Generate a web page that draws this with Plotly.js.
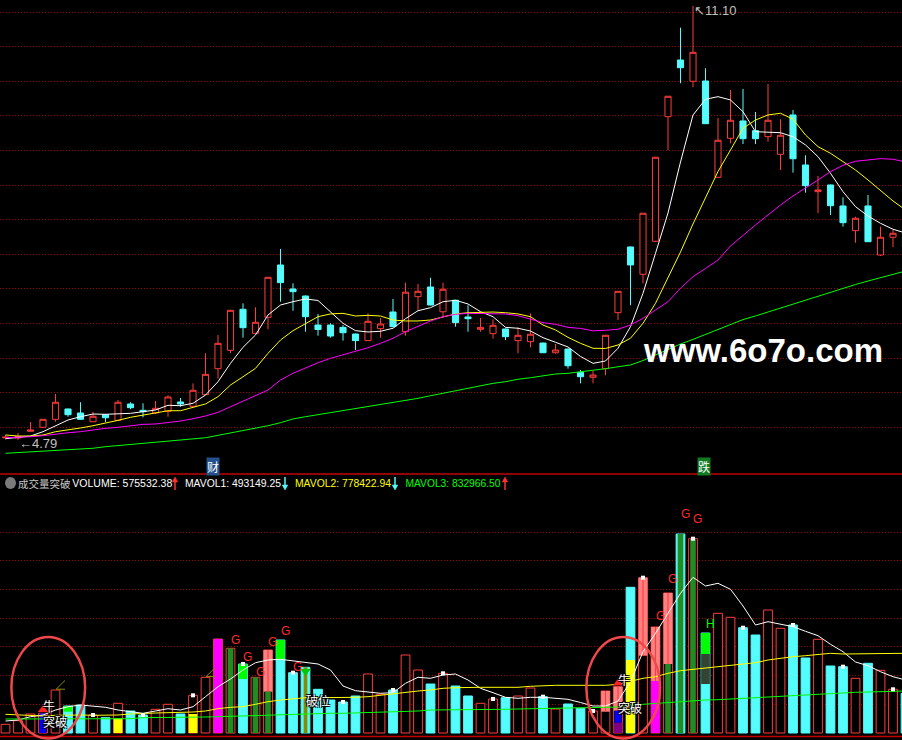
<!DOCTYPE html>
<html><head><meta charset="utf-8">
<script src="https://cdn.plot.ly/plotly-3.0.1.min.js"></script>
<style>html,body{margin:0;padding:0;background:#000;}#chart{width:902px;height:740px;}</style>
</head><body><div id="chart"></div>
<script>
// ---------- price data (per trading day, index 0..72) ----------
const openP=[4.822,4.819,4.917,4.975,5.091,5.241,5.183,5.056,5.158,5.076,
5.314,5.222,5.183,5.207,5.343,5.280,5.449,5.827,6.094,6.691,
6.342,6.574,7.335,6.986,6.884,6.462,6.462,6.428,6.331,6.235,
6.409,6.651,6.365,6.874,7.015,6.655,6.822,6.579,6.400,6.336,
6.404,6.235,6.220,6.200,6.059,6.113,5.774,5.702,5.827,6.641,
7.597,7.200,7.680,9.491,10.315,10.006,10.010,8.610,9.177,9.429,
9.288,9.200,8.944,9.516,8.789,8.401,8.498,8.193,7.834,8.193,
7.480,7.738,7.800];
const highP=[4.863,4.892,5.052,5.096,5.459,5.248,5.339,5.197,5.168,5.372,
5.339,5.324,5.357,5.440,5.401,5.614,6.051,6.317,6.681,6.778,
6.720,7.160,7.568,7.069,6.891,6.623,6.487,6.462,6.339,6.632,
6.564,6.841,7.078,7.058,7.150,7.078,6.826,6.749,6.564,6.545,
6.412,6.428,6.632,6.207,6.186,6.120,5.808,5.793,6.317,6.956,
7.604,8.092,8.905,9.792,10.785,11.10,10.195,9.472,9.879,9.894,
9.560,9.967,9.453,9.589,8.930,8.629,8.505,8.319,8.037,8.353,
7.892,7.844,7.873];
const lowP=[4.80,4.79,4.914,4.965,5.056,5.129,5.081,5.052,5.052,5.066,
5.237,5.120,5.168,5.129,5.274,5.277,5.444,5.682,6.051,6.278,
6.339,6.400,6.801,6.670,6.365,6.307,6.278,6.235,6.099,6.230,
6.278,6.433,6.307,6.670,6.746,6.583,6.438,6.365,6.365,6.263,
6.244,6.051,6.138,6.055,6.045,5.827,5.614,5.614,5.731,6.535,
6.749,7.069,7.669,9.007,9.977,9.919,9.385,8.607,9.104,9.093,
9.093,9.127,8.716,8.677,8.386,8.087,8.062,7.892,7.659,7.669,
7.466,7.593,7.553];
const closeP=[4.831,4.841,4.936,5.091,5.339,5.158,5.091,5.135,5.114,5.339,
5.260,5.202,5.251,5.416,5.314,5.513,5.745,6.196,6.676,6.423,
6.502,7.156,7.078,6.947,6.583,6.397,6.302,6.350,6.235,6.516,
6.477,6.438,6.939,6.952,6.753,6.982,6.496,6.554,6.428,6.458,
6.292,6.313,6.328,6.059,6.099,5.870,5.710,5.735,6.313,6.952,
7.335,8.087,8.901,9.788,10.203,10.427,9.389,9.148,9.439,9.171,
9.171,9.439,9.221,8.880,8.488,8.425,8.197,7.950,8.014,7.673,
7.738,7.796,7.597];
// moving averages
const ma5=[4.809,4.823,4.848,4.911,4.998,5.081,5.129,5.168,5.164,5.172,
5.178,5.202,5.226,5.295,5.289,5.324,5.444,5.638,5.905,6.138,
6.317,6.608,6.753,6.801,6.841,6.819,6.656,6.487,6.380,6.361,
6.371,6.415,6.554,6.670,6.714,6.801,6.822,6.768,6.656,6.583,
6.428,6.415,6.375,6.278,6.211,6.143,6.005,5.905,5.939,6.124,
6.438,6.924,7.505,8.091,8.833,9.516,9.744,9.782,9.734,9.564,
9.273,9.264,9.258,9.200,9.080,8.910,8.668,8.401,8.183,8.047,
7.941,7.854,7.800];
const ma10=[4.863,4.848,4.848,4.863,4.911,4.936,4.965,4.998,5.033,5.076,
5.120,5.153,5.187,5.216,5.216,5.265,5.314,5.420,5.590,5.710,
5.832,6.051,6.244,6.380,6.487,6.583,6.623,6.632,6.593,6.603,
6.593,6.535,6.521,6.521,6.535,6.583,6.623,6.641,6.651,6.651,
6.641,6.623,6.583,6.462,6.390,6.283,6.196,6.124,6.121,6.172,
6.270,6.487,6.778,7.141,7.524,7.931,8.309,8.694,9.007,9.323,
9.443,9.516,9.541,9.454,9.225,9.055,8.959,8.837,8.716,8.571,
8.425,8.266,8.135];
const ma20=[4.823,4.829,4.838,4.853,4.877,4.896,4.911,4.936,4.960,4.975,
4.998,5.018,5.023,5.042,5.066,5.100,5.139,5.193,5.274,5.357,
5.430,5.517,5.663,5.760,5.837,5.914,5.978,6.026,6.074,6.132,
6.196,6.269,6.365,6.448,6.521,6.583,6.618,6.632,6.632,6.623,
6.623,6.598,6.545,6.496,6.472,6.428,6.412,6.378,6.385,6.401,
6.462,6.559,6.681,6.801,6.996,7.165,7.284,7.408,7.611,7.771,
7.917,8.062,8.207,8.338,8.450,8.571,8.692,8.784,8.843,8.862,
8.881,8.872,8.833];
const ma60=[4.597,4.606,4.620,4.630,4.635,4.645,4.655,4.670,4.693,4.708,
4.728,4.743,4.757,4.776,4.786,4.805,4.823,4.858,4.892,4.925,
4.954,4.998,5.042,5.096,5.129,5.158,5.190,5.219,5.248,5.277,
5.306,5.335,5.365,5.396,5.434,5.469,5.507,5.542,5.585,5.614,
5.638,5.673,5.696,5.721,5.750,5.760,5.779,5.801,5.827,5.855,
5.881,5.946,6.026,6.106,6.186,6.253,6.324,6.397,6.468,6.541,
6.594,6.652,6.710,6.768,6.826,6.884,6.942,7.000,7.051,7.102,
7.152,7.203,7.247];

// ---------- volume data (万) ----------
const volWan=[8.7,12.3,19,19.7,43,27,28,18,15.3,29.7,
22,18,23.7,28.7,19,37.7,55.7,94,84.7,69,
55.7,83,93,60.3,65.7,43.7,33,31,37,59,
38.7,43,78,63,49,59.7,47,37,29.7,34,
35.3,37,45,36.3,24,29,24.7,22,42,46.3,
145.7,155.3,106,140,199,194.3,100,119.7,115.7,105.3,
98,123,104.7,108,75,93.7,67,66.3,54.7,69.7,
62.7,43.7,39.7];
const mavol1=[12,13,16.3,18,23,26.3,28,27,25.7,23,
21.3,19.7,22,24.3,23,26.3,36.3,46.3,54,63,
70.3,73,73.7,72,71,69,63,47,42.3,41,
39.7,40.3,49.7,55.7,54.7,58,59,53,44.7,40.3,
35.7,34.7,35.7,35.7,34.7,33.7,30.5,27,27,32,
51.3,81.3,99.7,119.7,139.7,155.7,147,149.7,143.7,127,
108,111.3,109,106.3,101.7,97.3,88.7,81.3,71,67.3,
61.3,56.3,53];
const mavol2=[18.7,18,17,17,17.7,18,18,17.7,17.7,18,
19,19.7,20,20.3,20.3,21,22,24.3,25.7,26.3,
28.7,31.3,33,34,35.3,35.3,35.3,35.3,35.7,36.3,
37.7,39,41,42,43,44.7,45.3,45.7,45.7,45.7,
45.7,45.7,46.7,47.3,47.7,47.7,47.7,47.7,47.7,48.7,
52,54.7,56.3,59.7,62.3,63.7,65,66.7,67.7,69,
70.3,73,74.7,76.3,77.3,78.3,79.7,79,79,79.3,
79.7,79.7,79.7];
const mavol3=[14,14,14,14,14,14.3,14.3,14.3,14.3,14.3,
14.3,15.3,15.3,15.3,15.3,15.3,16,16.3,16.7,17,
17.3,18,18.7,19,19.3,19.7,19.7,19.7,20,20.7,
20.7,21,21.7,22,23,23,23.3,23.3,23.7,23.7,
23.7,24,24,24.7,24.7,25,25,25.3,25.7,26,
28,28.7,29.7,30.7,31.3,32.3,33,33.3,34,35,
35.7,36.3,37,37.7,38.3,39,39.7,40.3,40.7,41,
41.3,41.7,42];

// signal segments on volume bars
const salmonIdx=[21,48,49,51,52,53], salmonBase=[41.3,21.3,22.3,77.3,52,69], salmonTop=[83,42,46.3,155.3,106,140];
const dkGreenIdx=[18,20,21,53,54,55], dkGreenTop=[84.7,55.7,41.3,69,199,194.3];
const magentaIdx=[17,52], magentaTop=[94,52];
const yellowIdx=[9,15,50], yellowTop=[14.7,19,73];
const capIdx=[5,19,22,56], capBase=[21.3,54,74,79], capTop=[27,69,93,100];
const blueIdx=[3,49], blueBase=[0,10.3], blueTop=[19.7,22.3];
const purpleIdx=[49], purpleTop=[10.3];
const grayIdx=[56], grayBase=[49], grayTop=[79];
const oliveIdx=[24];
const weekMarkIdx=[7,11,15,19,23,27,31,35,39,43,47,51,55,59,63,67,71];
const gIdx=[18,19,20,21,22,23,52,53,54,55];
const hIdx=[56];
const bullIdx=[3,49];
const breakIdx=[24];
const angleIdx=[4,16];
const eventIdx=[16.6,55.9], eventText=['财','跌'], eventBg=['#23508c','#127a22'];
const legendNames=['VOLUME','MAVOL1','MAVOL2','MAVOL3'];
const legendValues=['575532.38','493149.25','778422.94','832966.50'];
const legendUp=[true,false,false,true];

// ---------- build ----------
const RED='#ff3c3c', CYAN='#54fcfc';
const N=openP.length;
const idx=Array.from({length:N},(_,i)=>i);
const up=idx.map(i=>closeP[i]>=openP[i]);
const traces=[];

traces.push({type:'candlestick',x:idx,open:openP,high:highP,low:lowP,close:closeP,
  xaxis:'x',yaxis:'y',whiskerwidth:0,hoverinfo:'skip',showlegend:false,
  increasing:{line:{color:RED,width:1},fillcolor:'#000000'},
  decreasing:{line:{color:CYAN,width:1},fillcolor:CYAN}});
[[ma5,'#ffffff'],[ma10,'#ffff00'],[ma20,'#ff00ff'],[ma60,'#00ff00']].forEach(([d,c])=>{
  traces.push({type:'scatter',mode:'lines',x:idx,y:d,xaxis:'x',yaxis:'y',line:{color:c,width:1},hoverinfo:'skip',showlegend:false});
});

// volume base bars
traces.push({type:'bar',x:idx,y:volWan,xaxis:'x',yaxis:'y2',width:0.7,hoverinfo:'skip',showlegend:false,
  marker:{color:up.map(u=>u?'#000000':CYAN),line:{color:up.map(u=>u?RED:CYAN),width:1}}});
function seg(xs,base,top,color,w){
  traces.push({type:'bar',x:xs,base:base,y:xs.map((_,k)=>top[k]-base[k]),xaxis:'x',yaxis:'y2',width:w,
    hoverinfo:'skip',showlegend:false,marker:{color:color,line:{width:0}}});
}
const zeros=a=>a.map(()=>0);
seg(salmonIdx,salmonBase,salmonTop,'#ff8080',0.7);
seg(salmonIdx,salmonBase,salmonTop,RED,0.09);
seg(dkGreenIdx,zeros(dkGreenIdx),dkGreenTop,'#228b22',0.45);
seg(magentaIdx,zeros(magentaIdx),magentaTop,'#ff00ff',0.7);
seg(yellowIdx,zeros(yellowIdx),yellowTop,'#ffff00',0.7);
seg(capIdx,capBase,capTop,'#00ff00',0.7);
seg(blueIdx,blueBase,blueTop,'#0000ff',0.55);
seg(purpleIdx,zeros(purpleIdx),purpleTop,'#800080',0.7);
seg(grayIdx,grayBase,grayTop,'#334433',0.7);
seg(oliveIdx,zeros(oliveIdx),oliveIdx.map(i=>volWan[i]),'#8a8a00',0.3);

// volume MAs
[[mavol1,'#ffffff'],[mavol2,'#ffff00'],[mavol3,'#00ff00']].forEach(([d,c])=>{
  traces.push({type:'scatter',mode:'lines',x:idx,y:d,xaxis:'x',yaxis:'y2',line:{color:c,width:1},hoverinfo:'skip',showlegend:false});
});
// weekly white markers
traces.push({type:'scatter',mode:'markers',x:weekMarkIdx,y:weekMarkIdx.map(i=>volWan[i]),xaxis:'x',yaxis:'y2',
  marker:{symbol:'square',size:4,color:'#ffffff',line:{width:0}},hoverinfo:'skip',showlegend:false});
// signal triangles
traces.push({type:'scatter',mode:'markers',x:bullIdx,y:bullIdx.map(i=>volWan[i]+3.5),xaxis:'x',yaxis:'y2',
  marker:{symbol:'triangle-up',size:9,color:'#ff2020',line:{width:0}},hoverinfo:'skip',showlegend:false});
traces.push({type:'scatter',mode:'markers',x:breakIdx,y:breakIdx.map(i=>volWan[i]-4),xaxis:'x',yaxis:'y2',
  marker:{symbol:'triangle-down',size:9,color:'#00c800',line:{width:0}},hoverinfo:'skip',showlegend:false});
// small angle marks
angleIdx.forEach(i=>{
  const v=volWan[i];
  traces.push({type:'scatter',mode:'lines',x:[i+0.76,i+0.05,i+0.76],y:[v+0.8,v+0.8,v+9.5],xaxis:'x',yaxis:'y2',
    line:{color:'#8a8a00',width:1},hoverinfo:'skip',showlegend:false});
});

// ---------- annotations ----------
const ann=[];
const CJK='Noto Sans CJK SC, sans-serif';
gIdx.forEach(i=>ann.push({x:i-0.05,y:volWan[i]*1.1,xref:'x',yref:'y2',text:'G',showarrow:false,xanchor:'left',yanchor:'middle',
  borderpad:0,font:{family:'Liberation Sans, Arial',size:12,color:'#ff2a2a'}}));
hIdx.forEach(i=>ann.push({x:i-0.05,y:volWan[i]*1.09,xref:'x',yref:'y2',text:'H',showarrow:false,xanchor:'left',yanchor:'middle',
  borderpad:0,font:{family:'Liberation Sans, Arial',size:12,color:'#00ff00'}}));
const shadow='1px 1px 0px #000, -1px -1px 0px #000, 1px -1px 0px #000, -1px 1px 0px #000';
bullIdx.forEach(i=>{
  ann.push({x:i-0.05,y:volWan[i]+7.5,xref:'x',yref:'y2',text:'牛',showarrow:false,xanchor:'left',yanchor:'middle',borderpad:0,
    font:{family:CJK,size:12,color:'#ffffff',shadow:shadow}});
  ann.push({x:i-0.05,y:volWan[i]*0.5+2,xref:'x',yref:'y2',text:'突破',showarrow:false,xanchor:'left',yanchor:'middle',borderpad:0,
    font:{family:CJK,size:12,color:'#ffffff',shadow:shadow}});
});
breakIdx.forEach(i=>ann.push({x:i-0.05,y:volWan[i]*0.5,xref:'x',yref:'y2',text:'破位',showarrow:false,xanchor:'left',yanchor:'middle',borderpad:0,
  font:{family:CJK,size:12,color:'#ffffff',shadow:shadow}}));
// extreme price labels
let iMin=0,iMax=0;
idx.forEach(i=>{if(lowP[i]<lowP[iMin])iMin=i; if(highP[i]>highP[iMax])iMax=i;});
ann.push({x:iMin,y:lowP[iMin],xref:'x',yref:'y',text:'←'+lowP[iMin].toFixed(2),showarrow:false,xanchor:'left',yanchor:'middle',
  yshift:-3,borderpad:0,font:{family:'Liberation Sans, Arial',size:13,color:'#c0c0c0'}});
ann.push({x:iMax,y:highP[iMax],xref:'x',yref:'y',text:'↖'+highP[iMax].toFixed(2),showarrow:false,xanchor:'left',yanchor:'middle',
  yshift:-4,borderpad:0,font:{family:'Liberation Sans, Arial',size:13,color:'#c0c0c0'}});
// events
eventIdx.forEach((e,k)=>ann.push({x:e,y:1-466/740,xref:'x',yref:'paper',text:eventText[k],showarrow:false,xanchor:'center',yanchor:'middle',
  bgcolor:eventBg[k],borderpad:0,font:{family:CJK,size:12,color:'#ffffff'}}));
// legend row
const LF='Liberation Sans, Arial, sans-serif';
const ly=1-483/740;
ann.push({x:17/902,y:ly,xref:'paper',yref:'paper',text:'成交量突破',showarrow:false,xanchor:'left',yanchor:'middle',borderpad:0,
  font:{family:CJK,size:10.5,color:'#c8c8c8'}});
const legCx=[122,233,343,452.5], legW=[100,96,96,95], legC=['#ffffff','#ffffff','#ffff00','#00ff00'];
legendNames.forEach((n,k)=>{
  ann.push({x:legCx[k]/902,y:ly,xref:'paper',yref:'paper',text:n+': '+legendValues[k],showarrow:false,xanchor:'center',yanchor:'middle',
    borderpad:0,font:{family:LF,size:11,color:legC[k]}});
});
// watermark
ann.push({x:763/902,y:1-350/740,xref:'paper',yref:'paper',text:'<b>www.6o7o.com</b>',showarrow:false,xanchor:'center',yanchor:'middle',
  font:{family:'Liberation Sans, Arial',size:33,color:'#ffffff'}});

// ---------- shapes ----------
const shapes=[];
const px=x=>x/902, py=y=>1-y/740;
shapes.push({type:'line',xref:'paper',yref:'paper',x0:0,x1:1,y0:py(474),y1:py(474),line:{color:'#c00000',width:1.5}});
shapes.push({type:'line',xref:'paper',yref:'paper',x0:0,x1:1,y0:py(736.5),y1:py(736.5),line:{color:'#c00000',width:1.5}});
shapes.push({type:'circle',xref:'paper',yref:'paper',x0:px(5),x1:px(16),y0:py(489),y1:py(477),fillcolor:'#7a7a7a',line:{width:0}});
// trend arrows after each readout
const arrCx=[175,285,395,505];
legendUp.forEach((u,k)=>{
  const cx=arrCx[k], col=u?'#ff3030':CYAN;
  shapes.push({type:'line',xref:'paper',yref:'paper',x0:px(cx),x1:px(cx),y0:py(u?490:477),y1:py(u?479:488),line:{color:col,width:1.5}});
  const tip=u?477:490, bas=u?482:485;
  shapes.push({type:'path',xref:'paper',yref:'paper',
    path:`M ${px(cx-2.8)} ${py(bas)} L ${px(cx)} ${py(tip)} L ${px(cx+2.8)} ${py(bas)} Z`,fillcolor:col,line:{color:col,width:0.5}});
});
bullIdx.forEach(i=>shapes.push({type:'circle',xref:'x',yref:'y2',x0:i+0.42-2.95,x1:i+0.42+2.95,y0:-5.5,y1:96,
  line:{color:'#f04848',width:2.5}}));

// grid ticks
const priceGrid=[], volGrid=[];
for(let k=0;k<13;k++) priceGrid.push(4.9747+k*0.50306);
for(let k=1;k<=7;k++) volGrid.push(k*28.67);

const layout={
  width:902,height:740,margin:{l:0,r:0,t:0,b:0},
  paper_bgcolor:'#000000',plot_bgcolor:'#000000',
  showlegend:false,barmode:'overlay',
  xaxis:{range:[-0.44,71.72],showgrid:false,zeroline:false,showticklabels:false,showline:false,ticks:'',
    rangeslider:{visible:false},anchor:'y2',fixedrange:true},
  yaxis:{domain:[1-474/740,1],range:[4.296,11.1875],tickvals:priceGrid,showticklabels:false,ticks:'',
    showgrid:true,gridcolor:'#a00000',griddash:'1px,2px',gridwidth:1,zeroline:false,showline:false},
  yaxis2:{domain:[0,250/740],range:[-7,243],tickvals:volGrid,showticklabels:false,ticks:'',
    showgrid:true,gridcolor:'#a00000',griddash:'1px,2px',gridwidth:1,zeroline:false,showline:false},
  annotations:ann,shapes:shapes
};
Plotly.newPlot('chart',traces,layout,{staticPlot:true,displayModeBar:false}).then(gd=>{
  // fit the legend readouts to the narrow width used by the reference
  gd.querySelectorAll('.annotation-text').forEach(t=>{
    const s=t.textContent;
    legendNames.forEach((n,k)=>{
      if(s===n+': '+legendValues[k]){
        t.setAttribute('textLength',legW[k]);
        t.setAttribute('lengthAdjust','spacingAndGlyphs');
      }
    });
  });
});
</script></body></html>
